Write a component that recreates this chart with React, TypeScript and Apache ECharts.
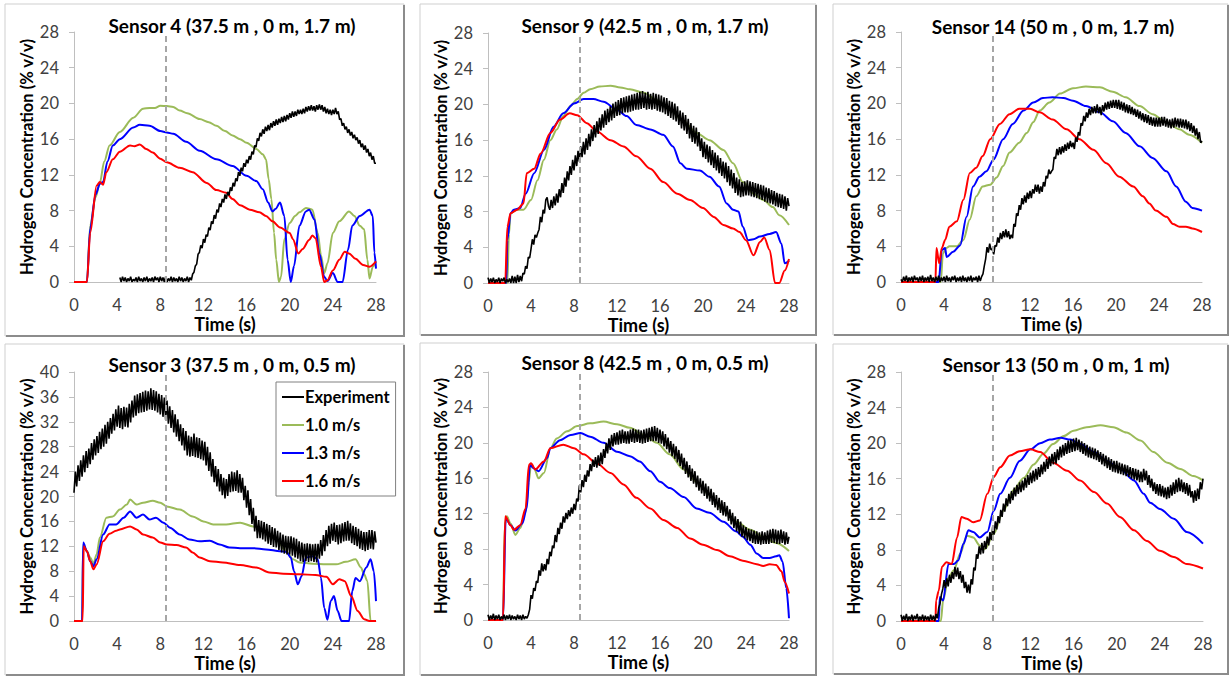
import React, { useEffect, useRef } from "react";
import * as echarts from "echarts";

const FONT = "Lato";
const timeStep = 0.125;
const dashedTime = 8.5;
const timeMax = 28;
const timeInterval = 4;

const seriesNames = ["Experiment", "1.0 m/s", "1.3 m/s", "1.6 m/s"];
const seriesColors = ["#000000", "#9BBB59", "#0000FF", "#FF0000"];

const panelTitles = [
  "Sensor 4 (37.5 m , 0 m, 1.7 m)",
  "Sensor 9 (42.5 m , 0 m, 1.7 m)",
  "Sensor 14 (50 m , 0 m, 1.7 m)",
  "Sensor 3 (37.5 m , 0 m, 0.5 m)",
  "Sensor 8 (42.5 m , 0 m, 0.5 m)",
  "Sensor 13 (50 m , 0 m, 1 m)",
];
const yMaxes = [28, 28, 28, 40, 28, 28];
const yAxisTitle = "Hydrogen Concentration (% v/v)";
const xAxisTitle = "Time (s)";

// Experiment readings, 0.125 s apart from t = 0 (one row = 2 s)
const exp4 = [
  null, null, null, null, null, null, null, null, null, null, null, null, null, null, null, null,
  null, null, null, null, null, null, null, null, null, null, null, null, null, null, null, null,
  null, null, 0.5, 0.0, 0.6, 0.1, 0.5, 0.0, 0.4, 0.1, 0.6, 0.0, 0.3, 0.1, 0.5, 0.0,
  0.6, 0.1, 0.4, 0.0, 0.5, 0.1, 0.6, 0.0, 0.4, 0.1, 0.5, 0.0, 0.6, 0.2, 0.5, 0.0,
  0.6, 0.1, 0.5, 0.0, 0.6, 0.0, 0.4, 0.1, 0.6, 0.0, 0.5, 0.1, 0.4, 0.0, 0.6, 0.1,
  0.5, 0.0, 0.4, 0.1, 0.6, 0.0, 0.5, 0.2, 0.9, 1.1, 1.8, 2.0, 3.1, 3.3, 4.1, 3.8,
  4.8, 4.4, 5.3, 5.1, 6.1, 5.8, 6.8, 6.5, 7.5, 7.1, 8.1, 7.8, 8.8, 8.4, 9.3, 8.9,
  9.8, 9.3, 10.1, 9.7, 10.6, 10.2, 11.1, 10.7, 11.6, 11.3, 12.3, 11.9, 12.8, 12.4, 13.3, 12.9,
  13.7, 13.3, 14.1, 13.7, 14.6, 14.3, 15.3, 15.1, 16.1, 15.8, 16.7, 16.3, 17.1, 16.6, 17.4, 16.9,
  17.6, 17.0, 17.8, 17.3, 18.0, 17.5, 18.2, 17.6, 18.3, 17.8, 18.5, 17.9, 18.6, 18.0, 18.7, 18.2,
  18.9, 18.4, 19.1, 18.5, 19.1, 18.6, 19.3, 18.8, 19.3, 18.8, 19.4, 18.9, 19.6, 19.1, 19.7, 19.2,
  19.8, 19.2, 19.7, 19.1, 19.8, 19.3, 19.9, 19.3, 19.8, 19.1, 19.6, 18.9, 19.4, 18.8, 19.3, 18.7,
  19.3, 18.8, 19.5, 18.8, 19.1, 18.2, 18.3, 17.5, 17.8, 17.1, 17.4, 16.7, 17.1, 16.4, 16.8, 16.1,
  16.5, 15.9, 16.2, 15.5, 15.9, 15.1, 15.5, 14.8, 15.3, 14.5, 14.9, 14.1, 14.5, 13.7, 14.1, 13.3,
  13.3,
];
const exp9 = [
  0.6, 0.0, 0.5, 0.1, 0.6, 0.0, 0.4, 0.1, 0.6, 0.0, 0.5, 0.2, 0.6, 0.0, 0.4, 0.1,
  0.5, 0.0, 0.8, 0.0, 0.7, 0.0, 0.9, 0.1, 0.8, 0.2, 1.1, 1.0, 1.9, 1.6, 2.9, 2.8,
  3.8, 4.9, 4.3, 5.4, 5.1, 5.6, 6.0, 7.4, 6.8, 8.2, 7.8, 9.3, 9.6, 8.6, 8.2, 9.3,
  8.4, 9.7, 8.7, 10.0, 9.0, 10.5, 9.6, 11.2, 10.1, 11.8, 10.8, 12.5, 11.5, 13.1, 12.1, 13.8,
  12.6, 14.3, 13.1, 14.8, 13.6, 15.3, 14.1, 15.8, 14.4, 16.2, 14.9, 16.7, 15.3, 17.2, 15.9, 17.7,
  16.3, 18.1, 16.7, 18.5, 17.1, 18.9, 17.4, 19.3, 17.7, 19.5, 18.0, 19.8, 18.2, 20.1, 18.5, 20.3,
  18.7, 20.5, 18.8, 20.7, 19.0, 20.8, 19.1, 20.9, 19.1, 21.0, 19.2, 21.1, 19.3, 21.2, 19.4, 21.3,
  19.4, 21.4, 19.5, 21.5, 19.6, 21.3, 19.4, 21.4, 19.5, 21.2, 19.4, 21.3, 19.5, 21.2, 19.3, 21.1,
  19.2, 21.0, 19.1, 20.8, 18.9, 20.7, 18.7, 20.4, 18.5, 20.3, 18.3, 20.1, 18.1, 19.8, 17.7, 19.3,
  17.3, 19.1, 17.1, 18.8, 16.7, 18.4, 16.2, 17.9, 15.8, 17.6, 15.6, 17.4, 15.3, 16.9, 14.8, 16.2,
  14.1, 15.8, 13.9, 15.5, 13.5, 15.3, 13.2, 14.9, 12.9, 14.6, 12.6, 14.3, 12.3, 14.0, 12.0, 13.6,
  11.7, 13.5, 11.3, 13.1, 10.9, 12.7, 10.6, 12.3, 10.1, 11.8, 9.8, 11.6, 9.6, 11.3, 9.7, 11.4,
  9.8, 11.5, 9.8, 11.4, 9.7, 11.3, 9.6, 11.2, 9.5, 11.1, 9.4, 11.0, 9.3, 10.9, 9.1, 10.7,
  9.0, 10.6, 8.9, 10.4, 8.8, 10.3, 8.6, 10.1, 8.5, 10.0, 8.4, 9.9, 8.3, 9.7, 8.1, 9.5,
  8.6,
];
const exp14 = [
  0.3, 0.0, 0.6, 0.1, 0.7, 0.0, 0.5, 0.1, 0.6, 0.0, 0.7, 0.2, 0.5, 0.0, 0.6, 0.1,
  0.7, 0.0, 0.5, 0.1, 0.6, 0.0, 0.8, 0.1, 0.5, 0.0, 0.6, 0.1, 0.7, 0.0, 0.5, 0.1,
  0.6, 0.0, 0.7, 0.1, 0.5, 0.0, 0.6, 0.2, 0.7, 0.0, 0.5, 0.1, 0.6, 0.0, 0.7, 0.1,
  0.5, 0.0, 0.6, 0.1, 0.7, 0.0, 0.5, 0.2, 0.6, 0.0, 0.7, 0.1, 0.6, 0.9, 1.8, 2.6,
  3.9, 3.3, 4.3, 3.6, 3.7, 3.1, 4.1, 4.0, 5.0, 4.4, 5.5, 4.8, 5.7, 5.0, 5.9, 5.0,
  5.7, 4.8, 5.3, 4.9, 6.5, 6.2, 7.7, 7.4, 8.6, 8.1, 9.4, 8.7, 9.7, 8.9, 10.0, 9.3,
  10.2, 9.4, 10.4, 9.9, 10.9, 10.1, 10.9, 9.9, 10.7, 10.1, 11.2, 10.7, 11.9, 11.6, 12.6, 12.1,
  12.4, 12.6, 14.0, 13.8, 14.9, 14.2, 15.1, 14.3, 15.2, 14.5, 15.4, 14.7, 15.6, 14.9, 15.8, 15.1,
  15.6, 14.9, 16.2, 15.7, 16.8, 16.4, 17.8, 17.5, 18.6, 18.0, 19.0, 18.4, 19.4, 18.7, 19.6, 18.9,
  19.7, 18.9, 19.9, 18.9, 19.6, 18.7, 19.8, 19.1, 20.1, 19.3, 20.2, 19.4, 20.3, 19.5, 20.4, 19.5,
  20.4, 19.4, 20.4, 19.3, 20.2, 19.2, 20.1, 19.0, 19.9, 18.9, 19.8, 18.8, 19.6, 18.7, 19.4, 18.5,
  19.3, 18.3, 19.1, 18.1, 18.9, 17.9, 18.8, 17.8, 18.7, 17.6, 18.5, 17.5, 18.4, 17.4, 18.4, 17.4,
  18.4, 17.4, 18.5, 17.5, 18.5, 17.4, 18.3, 17.3, 18.2, 17.2, 18.3, 17.3, 18.4, 17.4, 18.3, 17.3,
  18.3, 17.3, 18.2, 17.2, 18.2, 17.1, 18.0, 16.9, 17.8, 16.7, 17.5, 16.4, 17.2, 16.0, 16.8, 15.6,
  15.8,
];
const exp3 = [
  20.6, 24.0, 21.6, 25.0, 22.5, 25.8, 23.2, 26.6, 23.9, 27.3, 24.6, 27.7, 25.2, 28.6, 25.9, 29.2,
  26.6, 29.7, 27.0, 30.4, 27.6, 30.9, 28.0, 31.5, 28.5, 32.0, 29.3, 32.6, 30.1, 33.3, 30.6, 34.0,
  31.2, 34.6, 31.0, 34.2, 30.8, 34.4, 31.2, 34.3, 31.1, 34.9, 31.9, 35.4, 32.7, 36.2, 33.0, 36.4,
  33.4, 36.6, 33.5, 36.8, 33.6, 37.0, 33.8, 36.9, 34.0, 37.4, 33.9, 37.1, 33.8, 36.9, 33.5, 36.5,
  33.2, 36.3, 32.8, 35.9, 32.3, 35.4, 31.7, 34.5, 31.0, 33.9, 30.3, 33.2, 29.6, 32.4, 28.9, 31.6,
  28.2, 31.0, 27.4, 30.5, 26.6, 29.8, 26.4, 29.6, 26.5, 30.1, 26.3, 29.5, 26.2, 29.4, 26.0, 29.0,
  25.8, 28.8, 25.0, 28.0, 24.1, 27.1, 23.2, 26.0, 22.3, 24.9, 21.6, 24.4, 20.8, 23.6, 20.2, 23.0,
  19.7, 22.8, 20.1, 23.6, 20.7, 24.0, 20.8, 23.9, 20.9, 24.2, 20.6, 23.6, 20.6, 23.0, 19.4, 21.7,
  18.2, 21.0, 17.0, 19.6, 15.6, 18.2, 14.4, 16.9, 13.3, 16.2, 13.3, 16.1, 13.1, 15.9, 12.8, 15.6,
  12.4, 15.4, 12.2, 15.1, 11.9, 14.9, 11.8, 14.5, 11.4, 14.2, 11.0, 13.9, 10.8, 13.7, 10.7, 13.6,
  10.7, 13.6, 10.5, 13.4, 10.2, 13.2, 10.0, 12.8, 9.6, 12.6, 9.5, 12.4, 9.6, 12.5, 9.5, 12.4,
  9.6, 12.3, 9.5, 12.4, 9.4, 12.4, 10.0, 13.0, 10.5, 13.8, 11.2, 14.6, 12.0, 15.3, 12.4, 15.6,
  12.9, 15.8, 12.7, 15.4, 12.3, 15.5, 12.5, 15.7, 12.8, 15.9, 12.9, 16.1, 12.9, 15.7, 12.5, 15.3,
  12.2, 15.1, 12.0, 14.8, 11.6, 14.5, 11.4, 14.3, 11.2, 14.3, 11.4, 14.6, 11.6, 14.6, 11.5, 14.4,
  12.6,
];
const exp8 = [
  0.6, 0.0, 0.5, 0.1, 0.7, 0.0, 0.5, 0.1, 0.6, 0.0, 0.4, 0.1, 0.6, 0.0, 0.5, 0.1,
  0.6, 0.0, 0.5, 0.1, 0.4, 0.0, 0.6, 0.1, 0.5, 0.0, 0.6, 0.1, 0.4, 0.2, 0.6, 1.2,
  2.8, 2.4, 3.6, 3.3, 4.4, 4.2, 5.6, 5.0, 6.4, 5.5, 6.3, 5.6, 6.9, 6.3, 7.7, 7.2,
  8.4, 8.1, 9.6, 8.8, 10.4, 9.7, 11.0, 10.3, 11.7, 11.0, 12.1, 11.4, 12.4, 11.7, 12.7, 12.0,
  13.1, 12.4, 13.7, 13.4, 15.2, 14.4, 15.8, 15.0, 16.4, 15.6, 16.9, 16.2, 17.6, 16.8, 18.1, 17.3,
  18.4, 17.2, 18.6, 17.4, 18.9, 17.6, 19.3, 18.3, 20.0, 18.8, 20.5, 19.2, 20.9, 19.6, 21.1, 19.8,
  21.2, 19.8, 21.4, 19.9, 21.5, 20.0, 21.3, 19.9, 21.3, 19.9, 21.5, 20.1, 21.6, 20.0, 21.5, 20.1,
  21.5, 20.0, 21.4, 19.9, 21.5, 20.0, 21.6, 20.1, 21.7, 20.2, 21.8, 20.2, 21.9, 20.2, 21.7, 20.0,
  21.5, 19.9, 21.3, 19.6, 21.0, 19.3, 20.6, 18.9, 20.2, 18.5, 19.9, 18.2, 19.6, 17.8, 19.2, 17.4,
  18.8, 17.0, 18.3, 16.5, 17.9, 16.1, 17.5, 15.7, 17.1, 15.4, 16.8, 15.0, 16.3, 14.6, 16.0, 14.3,
  15.7, 14.0, 15.4, 13.7, 15.1, 13.4, 14.8, 13.0, 14.4, 12.7, 14.1, 12.4, 13.8, 12.1, 13.5, 11.8,
  13.3, 11.7, 12.9, 11.2, 12.5, 10.8, 12.1, 10.4, 11.7, 10.0, 11.4, 9.7, 11.1, 9.4, 10.7, 9.2,
  10.5, 9.0, 10.3, 8.9, 10.2, 8.7, 10.1, 8.6, 10.0, 8.6, 9.9, 8.5, 10.0, 8.6, 9.9, 8.6,
  10.1, 8.6, 10.2, 8.7, 10.3, 8.7, 10.2, 8.6, 10.1, 8.6, 10.2, 8.7, 10.0, 8.5, 9.9, 8.6,
  9.4,
];
const exp13 = [
  0.7, 0.0, 0.6, 0.1, 0.8, 0.0, 0.5, 0.1, 0.7, 0.0, 0.6, 0.2, 0.8, 0.0, 0.5, 0.1,
  0.7, 0.0, 0.6, 0.1, 0.5, 0.0, 0.7, 0.1, 0.6, 0.0, 0.8, 0.3, 1.5, 2.0, 3.0, 3.6,
  4.6, 3.7, 4.8, 3.9, 5.2, 4.3, 5.5, 4.7, 6.1, 5.0, 6.0, 4.7, 5.6, 4.3, 5.2, 3.7,
  4.4, 3.2, 4.1, 3.1, 4.7, 4.1, 6.0, 5.7, 7.5, 7.0, 8.4, 7.5, 8.8, 7.6, 9.0, 8.1,
  9.5, 8.5, 10.0, 9.1, 10.6, 9.7, 11.2, 10.3, 11.8, 11.0, 12.5, 11.7, 13.2, 12.3, 13.8, 12.9,
  14.3, 13.2, 14.6, 13.6, 15.0, 14.0, 15.3, 14.3, 15.6, 14.5, 15.8, 14.7, 16.1, 15.0, 16.4, 15.3,
  16.7, 15.5, 16.9, 15.7, 17.1, 15.9, 17.3, 16.2, 17.6, 16.5, 17.9, 16.8, 18.2, 17.1, 18.5, 17.4,
  18.8, 17.6, 19.0, 17.7, 19.3, 18.1, 19.6, 18.4, 19.8, 18.6, 20.0, 18.8, 20.3, 18.9, 20.4, 19.0,
  20.5, 19.1, 20.6, 19.2, 20.4, 19.0, 20.2, 18.8, 20.0, 18.6, 19.8, 18.4, 19.6, 18.3, 19.5, 18.2,
  19.4, 18.1, 19.2, 17.9, 19.0, 17.6, 18.8, 17.4, 18.6, 17.2, 18.4, 17.0, 18.2, 16.8, 18.0, 16.7,
  18.0, 16.6, 17.8, 16.5, 17.7, 16.4, 17.6, 16.3, 17.5, 16.2, 17.3, 16.0, 17.2, 15.9, 17.1, 15.8,
  17.0, 15.6, 16.8, 15.6, 17.1, 15.8, 16.9, 15.3, 16.4, 15.0, 16.0, 14.6, 15.6, 14.3, 15.4, 14.1,
  15.4, 14.0, 15.2, 13.9, 15.0, 13.7, 15.1, 13.8, 15.3, 14.1, 15.6, 14.3, 15.9, 14.5, 16.1, 14.6,
  15.9, 14.5, 15.6, 14.3, 15.5, 14.1, 15.3, 13.9, 14.6, 13.3, 14.7, 13.5, 14.9, 13.7, 15.6, 14.8,
  16.0,
];

// Simulations: [time s, concentration % v/v]
const s4v10 = [[0,0],[1.2,0],[1.5,6.3],[2,9.5],[2.4,11.1],[2.8,13.5],[3.3,15.3],[4.25,16.8],[5.5,18.4],[6.4,19.4],[7,19.5],[7.5,19.5],[8,19.75],[8.6,19.7],[9.2,19.6],[9.8,19.2],[10.5,18.9],[11.65,18.25],[12.5,17.9],[13.2,17.5],[14,16.9],[14.7,16.4],[15.4,16.0],[16,15.6],[16.9,14.9],[17.5,14.3],[17.8,13.75],[18.05,11.5],[18.3,9.3],[18.55,5.5],[18.75,2.5],[19,0],[19.2,0.6],[19.5,4.8],[20,6.6],[20.5,7.4],[20.9,7.8],[21.5,8.3],[22.1,8.1],[22.6,5.5],[22.9,3],[23.2,1.0],[23.5,2.1],[24,5.5],[24.6,6.8],[25.5,7.9],[26,7.4],[26.5,6.3],[26.9,5.9],[27.2,2.5],[27.4,0.4],[27.7,1.7],[28,2.3]];
const s4v13 = [[0,0],[1.2,0],[1.5,6],[2,9.8],[2.4,11],[2.7,11.2],[3.1,13.5],[3.6,15.3],[4.25,16],[5.5,17.3],[6.1,17.6],[7,17.5],[8,16.9],[8.6,16.75],[9.2,16.6],[10.4,15.7],[11.65,14.7],[13.2,13.75],[14.7,13.0],[16,11.9],[16.9,11.3],[17.5,10.4],[18,8.9],[18.4,7.9],[18.7,8.2],[19.1,8.9],[19.5,7.4],[19.8,2.5],[20.1,0],[20.4,1.8],[20.9,6.3],[21.5,7.9],[21.8,8.1],[22.3,7.0],[22.75,3.2],[23.2,0.6],[23.5,0.1],[24,1.0],[24.45,0],[24.9,0],[25.4,3.6],[25.8,6.3],[26.5,7.4],[27.4,8.1],[27.7,7.4],[27.85,3.3],[28,1.5]];
const s4v16 = [[0,0],[1.2,0],[1.5,5.5],[2.1,10.8],[2.4,11.2],[2.7,10.9],[3,12.3],[3.6,13.75],[4.25,14.6],[5.2,15.3],[5.6,15.2],[6.1,15.4],[6.7,14.9],[7.3,14.5],[8,13.8],[8.6,13.4],[9.8,12.8],[11,12.3],[12.3,11.1],[13.2,10.3],[14.1,10.0],[14.7,9.3],[15.4,8.6],[16.3,8.1],[17.2,7.8],[17.8,7.4],[18.4,6.8],[19.1,6.1],[20,5.5],[20.3,4.8],[20.8,3.2],[21.2,3.7],[21.8,4.7],[22.1,5.2],[22.4,4.9],[22.9,1.7],[23.2,0],[23.5,0.2],[24,1.3],[24.6,2.5],[25.1,3.4],[25.5,3.2],[26.1,2.6],[26.8,1.9],[27.4,1.7],[28,2.3]];

const s9v10 = [[0,0],[1.8,0],[1.95,5.5],[2.1,7.8],[2.7,8.2],[3.3,8.2],[4,9.3],[4.6,11.5],[5.2,13.8],[5.8,16.0],[6.4,17.2],[7,18.7],[7.7,19.85],[8.3,20.6],[8.9,21.3],[9.5,21.7],[10.4,22.0],[11.4,22.1],[12.3,21.9],[13.2,21.7],[14.5,21.3],[15.7,20.5],[16.9,19.4],[18.2,18.1],[19.4,16.8],[20.6,16.0],[21.9,14.9],[22.8,13.4],[23.7,11.3],[24.7,10.0],[25.6,9.3],[26.5,8.5],[27.1,7.6],[28,6.5]];
const s9v13 = [[0,0],[1.7,0],[1.8,4.8],[2.1,7.8],[2.4,8.2],[3,8.4],[3.5,10.0],[4.3,12.3],[5.2,14.9],[6.1,17.5],[7,19.0],[8,20.1],[8.9,20.6],[9.8,20.6],[10.75,20.3],[12,19.4],[12.9,18.7],[13.8,17.7],[15.1,17.2],[16.3,16.6],[17.2,15.3],[17.9,13.4],[18.5,12.8],[19.7,12.6],[20.6,11.9],[21.5,10.8],[22.2,8.9],[22.8,8.2],[23.3,8.0],[23.7,6.3],[24.2,4.8],[24.7,4.9],[25.3,5.2],[26.2,5.5],[26.8,5.7],[27.3,4.4],[27.6,2.2],[28,2.5]];
const s9v16 = [[0,0],[1.6,0],[1.8,6.3],[2.1,7.8],[2.7,8.2],[3.3,8.9],[3.6,12.3],[4.3,12.8],[4.9,14.5],[5.8,16.8],[6.7,18.3],[7.6,19.0],[8.3,18.8],[9.2,17.9],[10.1,17.0],[11.4,16.0],[12.6,15.3],[13.8,14.2],[15.1,12.8],[16.3,11.3],[17.6,10.0],[18.8,9.3],[20,8.4],[21,7.4],[21.9,6.5],[22.8,6.1],[23.4,5.7],[24,4.8],[24.7,3.1],[25.3,4.6],[25.7,5.1],[26.2,3.7],[26.7,0],[27.1,0],[27.6,1.4],[28,2.7]];

const s14v10 = [[0,0],[3.7,0],[3.9,3.2],[4.2,3.8],[4.5,4.0],[5.2,4.0],[5.8,4.7],[6.4,7.0],[7,9.6],[7.6,10.7],[8.3,10.9],[8.9,11.7],[9.5,13.0],[10.1,14.5],[11,15.6],[11.7,16.7],[12.3,17.9],[12.9,19.2],[13.8,20.1],[14.8,21.1],[16,21.7],[17.2,21.9],[18.5,21.8],[19.7,21.3],[20.9,20.7],[22.2,19.7],[23.4,18.8],[24.7,17.9],[25.9,17.1],[26.8,16.5],[28,15.6]];
const s14v13 = [[0,0],[3.5,0],[3.8,3.6],[4.1,3.8],[4.25,2.8],[4.85,3.4],[5.5,4.1],[6.1,7.3],[6.7,10.7],[7.3,11.8],[7.95,12.4],[8.6,13.7],[9.5,16.0],[10.4,17.7],[11.4,19.2],[12.3,20.1],[13.2,20.6],[14.1,20.7],[15.1,20.6],[16,20.3],[17.2,19.7],[18.5,19.0],[19.7,18.0],[20.9,16.7],[22.2,15.2],[23.4,13.9],[24.7,12.4],[25.6,10.7],[26.5,9.0],[27.1,8.3],[28,8.0]];
const s14v16 = [[0,0],[3.2,0],[3.3,3.8],[3.55,2.1],[3.8,3.8],[4.1,4.7],[4.5,6.2],[5.2,6.8],[5.8,9.2],[6.4,12.2],[7,12.8],[7.6,14.1],[8.3,16.0],[9.2,17.7],[10.1,18.8],[11,19.4],[12,19.4],[12.9,19.0],[14.1,18.2],[15.4,17.1],[16.6,16.0],[17.9,14.8],[19.1,13.3],[20.3,11.8],[21.6,10.7],[22.5,9.6],[23.1,8.8],[23.7,8.0],[24.7,7.3],[25.3,6.5],[25.9,6.2],[26.5,6.2],[27.1,6.0],[28,5.6]];

const s3v10 = [[0,0],[0.75,0],[0.85,12.3],[1.2,11.2],[1.5,10.2],[1.8,9.2],[2.1,10.7],[2.4,13.4],[3,16.6],[3.6,16.8],[4.25,17.9],[4.9,18.7],[5.2,19.5],[5.8,18.7],[6.4,19.0],[7.3,19.3],[8,19.0],[8.6,18.4],[9.8,17.9],[11,16.8],[12,16.0],[12.9,15.5],[14.1,15.5],[15.4,15.8],[16.6,15.2],[17.8,14.2],[18.75,13.1],[19.7,11.2],[20.3,9.9],[20.9,9.4],[22.1,9.2],[23.4,9.1],[24.3,9.1],[25.2,9.5],[26.1,9.9],[26.6,8.6],[26.9,7.5],[27.2,6.4],[27.5,0],[28,0]];
const s3v13 = [[0,0],[0.75,0],[0.85,12.6],[1.2,11.2],[1.5,9.6],[1.8,8.8],[2.1,9.9],[2.7,13.9],[3.3,15.5],[3.9,15.5],[4.6,16.6],[5.2,17.6],[5.8,16.6],[6.4,17.1],[7,16.3],[7.6,16.6],[8.3,15.8],[8.9,15.0],[9.8,13.9],[10.7,13.1],[11.65,12.8],[12.6,12.9],[13.5,12.3],[14.4,11.8],[15.4,11.7],[16.6,11.7],[17.8,11.5],[19.1,11.2],[19.7,11.1],[20.1,10.2],[20.4,8.0],[20.75,5.9],[21.1,7.2],[21.5,10.2],[22.1,10.4],[22.6,9.9],[22.9,6.9],[23.2,2.1],[23.5,0.2],[23.8,3.2],[24.1,4.0],[24.45,1.6],[24.8,0],[25.5,0],[25.8,4.8],[26.1,6.9],[26.5,6.4],[27.1,8.6],[27.5,9.9],[27.8,8.0],[28,3.2]];
const s3v16 = [[0,0],[0.8,0],[0.9,12.0],[1.2,11.2],[1.5,9.6],[1.8,8.3],[2.1,9.1],[2.7,12.8],[3.3,14.0],[3.9,14.5],[4.25,14.7],[5.2,15.2],[5.8,14.7],[6.4,13.9],[7.3,13.4],[8,12.6],[8.6,12.3],[9.5,12.2],[10.4,11.8],[11,11.0],[11.65,10.2],[12.6,9.6],[13.8,9.4],[15.4,9.0],[16.9,8.6],[18.1,7.8],[19.4,7.6],[20.9,7.5],[22.4,7.4],[23.4,7.1],[24,5.9],[24.6,6.7],[25.1,6.4],[25.7,4.0],[26.3,1.6],[26.9,0.3],[27.4,0],[28,0]];

const s8v10 = [[0,0],[1.4,0],[1.55,10.7],[1.75,11.7],[2.1,10.9],[2.55,9.6],[3,10.4],[3.5,12.2],[3.8,15.6],[4,17.6],[4.3,17.1],[4.7,16.0],[5.2,16.6],[5.8,19.4],[6.4,20.5],[7.35,21.3],[8.3,21.9],[9.5,22.2],[10.75,22.4],[12,22.1],[13.2,21.7],[14.5,20.9],[15.7,20.0],[16.9,18.7],[18.2,17.0],[19.4,15.6],[20.6,14.1],[21.9,12.4],[23.1,11.1],[24.4,10.2],[25.6,9.4],[26.8,8.7],[28,7.8]];
const s8v13 = [[0,0],[1.4,0],[1.65,11.5],[2.1,10.7],[2.55,10.1],[3.2,10.9],[3.6,12.6],[3.9,17.5],[4.3,17.1],[4.7,16.8],[5.5,18.3],[5.8,19.4],[6.7,20.3],[7.7,20.9],[8.6,21.1],[9.5,20.7],[10.75,20.0],[12,19.0],[13.2,18.5],[14.1,17.9],[15.1,16.8],[16,15.6],[16.9,14.9],[18.2,13.9],[19.4,12.6],[20.6,12.1],[21.9,11.1],[23.1,10.0],[23.7,9.4],[24.4,8.5],[25,7.5],[25.6,7.0],[26.2,7.0],[26.8,7.2],[27.1,7.3],[27.4,6.6],[27.75,3.6],[28,0.2]];
const s8v16 = [[0,0],[1.4,0],[1.6,11.7],[2.1,10.7],[2.4,10.2],[3,10.7],[3.5,12.6],[3.8,17.5],[4,17.7],[4.4,17.0],[5.2,17.9],[5.8,19.4],[7,19.8],[8,19.4],[8.9,18.7],[10.1,17.7],[11.4,16.6],[12.6,15.3],[13.8,13.8],[15.1,12.6],[16.3,11.3],[17.6,10.4],[18.8,9.2],[20,8.5],[21.3,7.9],[22.5,7.2],[23.7,6.7],[25,6.3],[25.6,6.1],[26.2,6.3],[26.8,6.2],[27.3,5.5],[27.6,4.3],[28,3.0]];

const s13v10 = [[0,0],[3.7,0],[3.9,2.3],[4.4,4.9],[4.9,5.7],[5.5,7.6],[6.1,9.6],[6.7,9.4],[7.3,8.5],[7.8,8.1],[8.6,9.8],[9.5,12.4],[10.4,14.7],[11.4,16.1],[12.3,17.6],[13.2,18.8],[14.1,19.9],[15.1,20.8],[16,21.4],[17.2,21.8],[18.5,22.0],[19.7,21.8],[20.9,21.2],[22.2,20.3],[23.4,19.0],[24.7,17.8],[25.9,17.1],[27.1,16.3],[28,15.8]];
const s13v13 = [[0,0],[3.5,0],[3.6,2.7],[3.9,2.3],[4.4,6.4],[4.9,6.4],[5.3,6.8],[5.8,8.7],[6.25,10.2],[6.7,10.0],[7.3,9.4],[8,10.0],[8.6,12.4],[9.2,14.3],[10.1,16.1],[11,18.0],[12,19.3],[12.9,20.0],[13.8,20.4],[14.8,20.6],[15.7,20.4],[16.6,19.9],[17.9,19.0],[19.1,18.0],[20.3,17.1],[21.6,15.8],[22.5,14.3],[23.1,13.3],[24,12.6],[25.3,11.5],[26.5,10.0],[28,8.7]];
const s13v16 = [[0,0],[3.2,0],[3.25,2.3],[3.5,3.4],[3.8,6.1],[4.2,6.6],[4.7,6.4],[5.2,9.4],[5.6,11.7],[6.1,11.5],[6.7,11.1],[7.3,11.3],[8,14.3],[8.6,16.2],[9.2,17.3],[10.1,18.6],[11,19.1],[12,19.3],[12.9,19.0],[14.1,17.8],[15.4,16.9],[16.6,15.8],[17.9,14.5],[19.1,13.2],[20.3,11.7],[21.6,10.2],[22.8,9.0],[24,7.9],[25.3,7.2],[26.5,6.4],[28,5.9]];

const panelExperiments = [exp4, exp9, exp14, exp3, exp8, exp13];
const panelSimulations = [
  [s4v10, s4v13, s4v16],
  [s9v10, s9v13, s9v16],
  [s14v10, s14v13, s14v16],
  [s3v10, s3v13, s3v16],
  [s8v10, s8v13, s8v16],
  [s13v10, s13v13, s13v16],
];

// Layout (pixels)
const grids = [
  { left: 74, top: 32, width: 302, height: 250 },
  { left: 488, top: 33, width: 301, height: 250 },
  { left: 901, top: 32, width: 301, height: 250 },
  { left: 74, top: 372, width: 302, height: 249 },
  { left: 488, top: 372, width: 301, height: 248 },
  { left: 901, top: 372, width: 302, height: 249 },
];
const frames = [
  [5, 4, 404, 336],
  [420, 4, 816, 335],
  [833, 4, 1228, 335],
  [5, 344, 404, 675],
  [420, 343, 816, 675],
  [833, 344, 1228, 674],
];
const titlePos = [
  [232, 25], [645, 25], [1053, 26], [232, 364], [645, 362], [1056, 364],
];

export default function App() {
  const ref = useRef<HTMLDivElement>(null);
  useEffect(() => {
    if (!ref.current) return;
    const chart = echarts.init(ref.current, undefined, { renderer: "svg" });

    const xAxes = grids.map((_, i) => ({
      type: "value",
      gridIndex: i,
      min: 0,
      max: timeMax,
      interval: timeInterval,
      name: xAxisTitle,
      nameLocation: "middle",
      nameGap: 34,
      nameTextStyle: { fontFamily: FONT, fontWeight: "bold", fontSize: 18, color: "#000", lineHeight: 16 },
      axisLine: { show: true, lineStyle: { color: "#BFBFBF", width: 1 } },
      axisTick: { show: false },
      splitLine: { show: false },
      axisLabel: { margin: 16, fontFamily: FONT, fontSize: 16.5, color: "#404040", lineHeight: 14 },
    }));
    const yAxes = grids.map((_, i) => ({
      type: "value",
      gridIndex: i,
      min: 0,
      max: yMaxes[i],
      interval: 4,
      name: yAxisTitle,
      nameLocation: "middle",
      nameGap: 37,
      nameTextStyle: { fontFamily: FONT, fontWeight: "bold", fontSize: 16.5, color: "#000" },
      axisLine: { show: true, lineStyle: { color: "#BFBFBF", width: 1 } },
      axisTick: { show: true, length: 5, lineStyle: { color: "#BFBFBF" } },
      splitLine: { show: false },
      axisLabel: { margin: 15, fontFamily: FONT, fontSize: 16.5, color: "#404040" },
    }));

    const series: any[] = [];
    grids.forEach((_, i) => {
      panelSimulations[i].forEach((data, k) => {
        series.push({
          type: "line",
          name: seriesNames[k + 1],
          xAxisIndex: i,
          yAxisIndex: i,
          data,
          symbol: "none",
          smooth: 0.3,
          smoothMonotone: "x",
          lineStyle: { color: seriesColors[k + 1], width: 2 },
          itemStyle: { color: seriesColors[k + 1] },
          silent: true,
          markLine:
            k === 0
              ? {
                  silent: true,
                  symbol: "none",
                  label: { show: false },
                  lineStyle: { color: "#A6A6A6", type: [6, 4], width: 2 },
                  data: [{ xAxis: dashedTime }],
                }
              : undefined,
        });
      });
      const exp = panelExperiments[i]
        .map((v, j) => [j * timeStep, v])
        .filter((p) => p[1] !== null);
      series.push({
        type: "line",
        name: seriesNames[0],
        xAxisIndex: i,
        yAxisIndex: i,
        data: exp,
        symbol: "none",
        lineStyle: { color: seriesColors[0], width: 1.6 },
        itemStyle: { color: seriesColors[0] },
        silent: true,
      });
    });

    const graphics: any[] = [];
    frames.forEach(([x0, y0, x1, y1]) => {
      graphics.push({
        type: "rect",
        shape: { x: x0, y: y0, width: x1 - x0, height: y1 - y0 },
        style: { fill: "none", stroke: "#CFCFCF", lineWidth: 1 },
        silent: true,
      });
      graphics.push({
        type: "polyline",
        shape: { points: [[x1, y0 + 1], [x1, y1], [x0 + 1, y1]] },
        style: { fill: "none", stroke: "#8C8C8C", lineWidth: 2 },
        silent: true,
      });
    });
    panelTitles.forEach((t, i) => {
      graphics.push({
        type: "text",
        x: titlePos[i][0],
        y: titlePos[i][1],
        style: {
          text: t,
          fontFamily: FONT,
          fontWeight: "bold",
          fontSize: 19,
          fill: "#000",
          align: "center",
          verticalAlign: "middle",
        },
        silent: true,
      });
    });

    chart.setOption({
      animation: false,
      backgroundColor: "#fff",
      grid: grids.map((g) => ({ ...g, containLabel: false })),
      xAxis: xAxes,
      yAxis: yAxes,
      series,
      graphic: graphics,
      legend: {
        data: seriesNames.map((n, k) => ({ name: n, icon: "rect", itemStyle: { color: seriesColors[k] } })),
        orient: "vertical",
        left: 276,
        top: 382,
        itemWidth: 22,
        itemHeight: 2,
        itemGap: 8,
        padding: [5, 6, 5, 6],
        borderColor: "#808080",
        borderWidth: 1,
        backgroundColor: "#fff",
        selectedMode: false,
        textStyle: { fontFamily: FONT, fontWeight: "bold", fontSize: 16.5, color: "#000", padding: [0, 0, 0, -4], lineHeight: 20 },
      },
    });
    return () => chart.dispose();
  }, []);
  return (
    <div
      ref={ref}
      style={{ position: "fixed", left: 0, top: 0, width: 1229, height: 678, background: "#fff" }}
    />
  );
}
